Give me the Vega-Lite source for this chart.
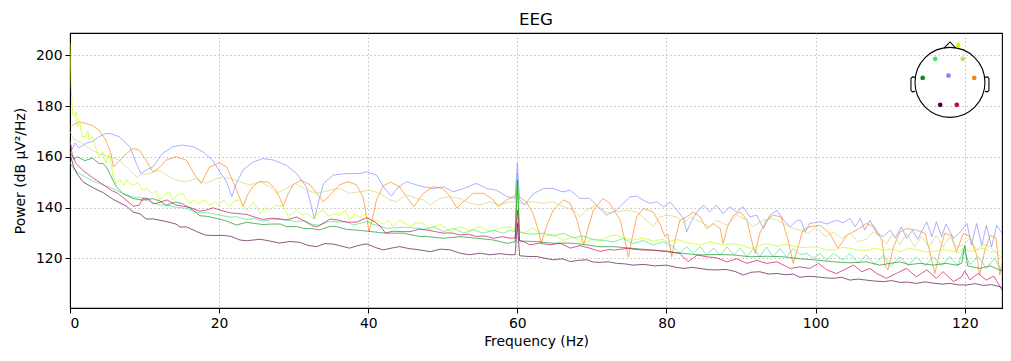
{
"$schema": "https://vega.github.io/schema/vega-lite/v6.json",
"width": 932, "height": 275,
"autosize": {"type": "none"},
"padding": {"left": 70, "top": 33, "right": 9, "bottom": 53},
"title": {"text": "EEG", "font": "DejaVu Sans", "fontSize": 16.7, "fontWeight": "normal", "color": "black", "offset": 8, "baseline": "alphabetic", "dy": 17},
"config": {
 "font": "DejaVu Sans",
 "view": {"stroke": "black", "strokeWidth": 1.1},
 "axis": {"labelFont": "DejaVu Sans", "labelFontSize": 13.9, "labelColor": "black", "titleFont": "DejaVu Sans", "titleFontSize": 13.9, "titleFontWeight": "normal", "titleColor": "black", "domainColor": "black", "tickColor": "black", "tickSize": 5, "labelPadding": 3, "gridColor": "#b0b0b0", "gridDash": [1.5, 2.5], "gridWidth": 0.8}
},
"datasets": {
"psd": [
{"c":"B","f":0,"p":166},{"c":"B","f":0.3,"p":163},{"c":"B","f":0.7,"p":165.5},{"c":"B","f":1.2,"p":163.5},{"c":"B","f":2.1,"p":165.3},{"c":"B","f":3,"p":166},{"c":"B","f":3.9,"p":167.9},{"c":"B","f":4.8,"p":169.2},{"c":"B","f":5.6,"p":169},{"c":"B","f":6.6,"p":167.9},{"c":"B","f":8,"p":164},{"c":"B","f":8.9,"p":157.4},{"c":"B","f":9.5,"p":153.4},{"c":"B","f":10.2,"p":154.7},{"c":"B","f":11.1,"p":156},{"c":"B","f":12.4,"p":161.3},{"c":"B","f":13.8,"p":164},{"c":"B","f":15.1,"p":164.6},{"c":"B","f":16.5,"p":164},{"c":"B","f":17.8,"p":162},{"c":"B","f":19.1,"p":158.7},{"c":"B","f":20.1,"p":154.1},{"c":"B","f":21,"p":150.2},{"c":"B","f":21.7,"p":144.3},{"c":"B","f":22.3,"p":149.5},{"c":"B","f":23.2,"p":154.8},{"c":"B","f":24.6,"p":158},{"c":"B","f":25.9,"p":159.3},{"c":"B","f":27.3,"p":158.7},{"c":"B","f":29,"p":156.7},{"c":"B","f":30.4,"p":153.4},{"c":"B","f":31.7,"p":148.2},{"c":"B","f":32.4,"p":140.3},{"c":"B","f":32.8,"p":135.5},{"c":"B","f":33.3,"p":141.7},{"c":"B","f":34,"p":149.5},{"c":"B","f":35.3,"p":152.8},{"c":"B","f":37.1,"p":153.4},{"c":"B","f":38.9,"p":153.4},{"c":"B","f":39.8,"p":154.1},{"c":"B","f":41.1,"p":152.8},{"c":"B","f":42.2,"p":147.5},{"c":"B","f":43.1,"p":144.5},{"c":"B","f":44,"p":148},{"c":"B","f":45.1,"p":150.2},{"c":"B","f":46.5,"p":148.9},{"c":"B","f":47.4,"p":148.2},{"c":"B","f":48.7,"p":147.5},{"c":"B","f":50.1,"p":148.2},{"c":"B","f":51.4,"p":146.2},{"c":"B","f":52.8,"p":147.5},{"c":"B","f":54.5,"p":149.5},{"c":"B","f":55.9,"p":147.5},{"c":"B","f":57.2,"p":146.8},{"c":"B","f":58.6,"p":144.3},{"c":"B","f":59.7,"p":143.6},{"c":"B","f":60,"p":157.5},{"c":"B","f":60.3,"p":143},{"c":"B","f":61,"p":141},{"c":"B","f":62.1,"p":145.4},{"c":"B","f":63.5,"p":147.5},{"c":"B","f":64.8,"p":147.5},{"c":"B","f":66,"p":146.2},{"c":"B","f":67.1,"p":146.8},{"c":"B","f":68.4,"p":143.6},{"c":"B","f":69.7,"p":143.6},{"c":"B","f":71.1,"p":139.5},{"c":"B","f":72,"p":137},{"c":"B","f":73.3,"p":139},{"c":"B","f":74.2,"p":141.6},{"c":"B","f":75.1,"p":144.2},{"c":"B","f":76,"p":144.5},{"c":"B","f":76.9,"p":142.9},{"c":"B","f":77.8,"p":141.6},{"c":"B","f":78.7,"p":142.3},{"c":"B","f":79.6,"p":140.3},{"c":"B","f":80.5,"p":142.2},{"c":"B","f":81.4,"p":139},{"c":"B","f":82.3,"p":135.7},{"c":"B","f":82.7,"p":130.4},{"c":"B","f":83.4,"p":135},{"c":"B","f":84.1,"p":138.3},{"c":"B","f":85,"p":140.9},{"c":"B","f":85.8,"p":138.3},{"c":"B","f":86.7,"p":140.9},{"c":"B","f":87.6,"p":137.6},{"c":"B","f":88.5,"p":140.3},{"c":"B","f":89.4,"p":138.3},{"c":"B","f":90.3,"p":140.3},{"c":"B","f":91.2,"p":136.3},{"c":"B","f":92.1,"p":137},{"c":"B","f":93,"p":131.7},{"c":"B","f":93.9,"p":137},{"c":"B","f":94.8,"p":139},{"c":"B","f":95.7,"p":135},{"c":"B","f":96.6,"p":132.4},{"c":"B","f":97.5,"p":135},{"c":"B","f":98,"p":135},{"c":"B","f":98.6,"p":130.4},{"c":"B","f":99.2,"p":133.7},{"c":"B","f":100.6,"p":134.4},{"c":"B","f":101.5,"p":133.5},{"c":"B","f":102.8,"p":135},{"c":"B","f":103.7,"p":134},{"c":"B","f":104.6,"p":135.7},{"c":"B","f":105.3,"p":132.4},{"c":"B","f":106,"p":135.7},{"c":"B","f":106.6,"p":131.1},{"c":"B","f":107.3,"p":135},{"c":"B","f":108.2,"p":129.8},{"c":"B","f":109.1,"p":128.5},{"c":"B","f":110,"p":131.1},{"c":"B","f":110.7,"p":128},{"c":"B","f":111.5,"p":132.4},{"c":"B","f":112.2,"p":127.8},{"c":"B","f":113,"p":131},{"c":"B","f":113.7,"p":127.5},{"c":"B","f":114.9,"p":134.4},{"c":"B","f":115.6,"p":128.5},{"c":"B","f":116.2,"p":134.4},{"c":"B","f":116.9,"p":128.5},{"c":"B","f":117.5,"p":133.5},{"c":"B","f":118.5,"p":127.8},{"c":"B","f":119.3,"p":130},{"c":"B","f":120.3,"p":133.7},{"c":"B","f":120.9,"p":125.2},{"c":"B","f":121.6,"p":133.7},{"c":"B","f":122.3,"p":125},{"c":"B","f":122.9,"p":133},{"c":"B","f":123.6,"p":124.5},{"c":"B","f":124.3,"p":133},{"c":"B","f":125,"p":129.8},
{"c":"O","f":0,"p":172},{"c":"O","f":0.4,"p":172.5},{"c":"O","f":1.2,"p":173.8},{"c":"O","f":2.1,"p":173.2},{"c":"O","f":3,"p":172.3},{"c":"O","f":3.9,"p":170.5},{"c":"O","f":4.8,"p":166.6},{"c":"O","f":5.5,"p":161.3},{"c":"O","f":5.8,"p":156},{"c":"O","f":6.2,"p":157},{"c":"O","f":7.1,"p":160},{"c":"O","f":8.4,"p":163.3},{"c":"O","f":9.3,"p":162.6},{"c":"O","f":10.2,"p":158.7},{"c":"O","f":11.1,"p":154.1},{"c":"O","f":11.9,"p":155.5},{"c":"O","f":12.9,"p":158.7},{"c":"O","f":14.2,"p":160},{"c":"O","f":15.6,"p":158.7},{"c":"O","f":16.9,"p":152.1},{"c":"O","f":17.6,"p":149.5},{"c":"O","f":18.7,"p":156},{"c":"O","f":20,"p":157.6},{"c":"O","f":21,"p":156},{"c":"O","f":21.9,"p":150},{"c":"O","f":22.8,"p":143.5},{"c":"O","f":23.2,"p":140.3},{"c":"O","f":23.8,"p":145},{"c":"O","f":24.6,"p":148.5},{"c":"O","f":25.5,"p":150.3},{"c":"O","f":26.6,"p":150},{"c":"O","f":27.6,"p":147},{"c":"O","f":28.1,"p":144},{"c":"O","f":28.6,"p":140.5},{"c":"O","f":29.2,"p":145},{"c":"O","f":29.9,"p":149},{"c":"O","f":31,"p":150.8},{"c":"O","f":32.2,"p":149},{"c":"O","f":33.1,"p":145.5},{"c":"O","f":34,"p":142.3},{"c":"O","f":34.9,"p":145},{"c":"O","f":36.2,"p":149},{"c":"O","f":37.3,"p":150.2},{"c":"O","f":38.4,"p":149},{"c":"O","f":39.3,"p":144.3},{"c":"O","f":39.8,"p":136},{"c":"O","f":40.1,"p":130.5},{"c":"O","f":40.6,"p":136},{"c":"O","f":41.1,"p":143},{"c":"O","f":42,"p":148.5},{"c":"O","f":43,"p":150},{"c":"O","f":44.2,"p":148.2},{"c":"O","f":45.1,"p":144.3},{"c":"O","f":46.1,"p":140.3},{"c":"O","f":47.4,"p":145.6},{"c":"O","f":48.7,"p":148.2},{"c":"O","f":50,"p":147.5},{"c":"O","f":51,"p":144.3},{"c":"O","f":51.9,"p":139.7},{"c":"O","f":52.8,"p":142.5},{"c":"O","f":54.1,"p":145.6},{"c":"O","f":55.5,"p":145.6},{"c":"O","f":56.8,"p":143},{"c":"O","f":57.4,"p":140.3},{"c":"O","f":58.6,"p":143},{"c":"O","f":59.9,"p":145},{"c":"O","f":61.2,"p":142.3},{"c":"O","f":62.1,"p":137.7},{"c":"O","f":62.8,"p":131.2},{"c":"O","f":63.2,"p":125.9},{"c":"O","f":63.9,"p":132.5},{"c":"O","f":64.8,"p":139},{"c":"O","f":66.2,"p":143},{"c":"O","f":67.1,"p":141.6},{"c":"O","f":68,"p":135.1},{"c":"O","f":68.6,"p":128.5},{"c":"O","f":68.9,"p":125.3},{"c":"O","f":69.4,"p":131},{"c":"O","f":70.2,"p":139},{"c":"O","f":71.5,"p":143.6},{"c":"O","f":72.4,"p":141.6},{"c":"O","f":73.8,"p":135},{"c":"O","f":74.5,"p":126},{"c":"O","f":74.9,"p":120.5},{"c":"O","f":75.4,"p":128},{"c":"O","f":76,"p":136.3},{"c":"O","f":76.9,"p":139.6},{"c":"O","f":78.2,"p":138.3},{"c":"O","f":79.1,"p":133.7},{"c":"O","f":79.8,"p":128.5},{"c":"O","f":80.2,"p":129.5},{"c":"O","f":80.7,"p":120.6},{"c":"O","f":81.2,"p":128},{"c":"O","f":81.8,"p":135},{"c":"O","f":82.7,"p":136.3},{"c":"O","f":83.6,"p":138.3},{"c":"O","f":84.5,"p":136.3},{"c":"O","f":85.4,"p":131.7},{"c":"O","f":86.3,"p":133.7},{"c":"O","f":87.2,"p":131.7},{"c":"O","f":87.6,"p":125.8},{"c":"O","f":88.2,"p":132.5},{"c":"O","f":89,"p":137},{"c":"O","f":89.9,"p":138.3},{"c":"O","f":90.8,"p":135},{"c":"O","f":91.4,"p":127.2},{"c":"O","f":91.9,"p":121.9},{"c":"O","f":92.5,"p":129.8},{"c":"O","f":93.4,"p":135},{"c":"O","f":94.3,"p":137},{"c":"O","f":95.4,"p":136.3},{"c":"O","f":96.3,"p":127.2},{"c":"O","f":97,"p":118},{"c":"O","f":97.6,"p":124},{"c":"O","f":98.3,"p":131.1},{"c":"O","f":99.2,"p":132.4},{"c":"O","f":100.6,"p":133},{"c":"O","f":101.9,"p":129.8},{"c":"O","f":103,"p":123.9},{"c":"O","f":104.2,"p":129.1},{"c":"O","f":105.5,"p":131.1},{"c":"O","f":106.8,"p":133.7},{"c":"O","f":107.9,"p":132.4},{"c":"O","f":108.9,"p":127.2},{"c":"O","f":109.3,"p":117.3},{"c":"O","f":109.7,"p":115.4},{"c":"O","f":110.4,"p":124},{"c":"O","f":111.3,"p":130.4},{"c":"O","f":112.2,"p":131.7},{"c":"O","f":113.5,"p":131.1},{"c":"O","f":114.7,"p":129.8},{"c":"O","f":115.3,"p":122.6},{"c":"O","f":116,"p":114},{"c":"O","f":116.6,"p":122},{"c":"O","f":117.3,"p":129.8},{"c":"O","f":118.2,"p":129},{"c":"O","f":118.9,"p":122.6},{"c":"O","f":119.8,"p":129.8},{"c":"O","f":120.7,"p":128.5},{"c":"O","f":121.6,"p":121.3},{"c":"O","f":122,"p":113.4},{"c":"O","f":122.7,"p":123.2},{"c":"O","f":123.4,"p":129.1},{"c":"O","f":124.2,"p":128},{"c":"O","f":124.7,"p":113.4},{"c":"O","f":125,"p":118},
{"c":"P","f":0,"p":170},{"c":"P","f":0.5,"p":167},{"c":"P","f":1.2,"p":166},{"c":"P","f":2,"p":164.5},{"c":"P","f":3,"p":162.5},{"c":"P","f":3.9,"p":161.3},{"c":"P","f":5.3,"p":160},{"c":"P","f":6.6,"p":158.7},{"c":"P","f":8,"p":154.7},{"c":"P","f":8.9,"p":152.1},{"c":"P","f":9.7,"p":153},{"c":"P","f":10.6,"p":153.4},{"c":"P","f":12,"p":154.7},{"c":"P","f":12.9,"p":152.8},{"c":"P","f":14.2,"p":150.8},{"c":"P","f":15.6,"p":150.1},{"c":"P","f":16.9,"p":151.4},{"c":"P","f":18.2,"p":149.5},{"c":"P","f":19.6,"p":151.4},{"c":"P","f":20.5,"p":152},{"c":"P","f":21.4,"p":151.5},{"c":"P","f":22.8,"p":150.2},{"c":"P","f":24.1,"p":148.9},{"c":"P","f":25.5,"p":150.2},{"c":"P","f":26.8,"p":148.2},{"c":"P","f":27.7,"p":145.6},{"c":"P","f":29,"p":147.5},{"c":"P","f":30.2,"p":149.5},{"c":"P","f":31.7,"p":146.9},{"c":"P","f":33.1,"p":145.6},{"c":"P","f":34,"p":146.2},{"c":"P","f":34.9,"p":146.9},{"c":"P","f":36.2,"p":147.5},{"c":"P","f":37.5,"p":145.6},{"c":"P","f":38.9,"p":146.2},{"c":"P","f":40.2,"p":146.9},{"c":"P","f":41.6,"p":145.6},{"c":"P","f":42.9,"p":143},{"c":"P","f":43.8,"p":142.3},{"c":"P","f":45.1,"p":145},{"c":"P","f":46.5,"p":143.6},{"c":"P","f":47.4,"p":143},{"c":"P","f":48.3,"p":141},{"c":"P","f":49.6,"p":143.6},{"c":"P","f":51,"p":144.3},{"c":"P","f":52.3,"p":143.5},{"c":"P","f":53.6,"p":141.7},{"c":"P","f":55,"p":141},{"c":"P","f":56.3,"p":142.3},{"c":"P","f":57.7,"p":141},{"c":"P","f":59,"p":142.3},{"c":"P","f":59.7,"p":142},{"c":"P","f":60,"p":149.5},{"c":"P","f":60.3,"p":141.5},{"c":"P","f":60.8,"p":141.7},{"c":"P","f":62.1,"p":142.3},{"c":"P","f":63.5,"p":141.7},{"c":"P","f":64.8,"p":142.3},{"c":"P","f":66.2,"p":140.3},{"c":"P","f":67.5,"p":139},{"c":"P","f":68.4,"p":136.4},{"c":"P","f":69.3,"p":139},{"c":"P","f":70.6,"p":141},{"c":"P","f":72,"p":138},{"c":"P","f":73.3,"p":138.3},{"c":"P","f":74.7,"p":139},{"c":"P","f":76,"p":138.3},{"c":"P","f":77.3,"p":135},{"c":"P","f":78.2,"p":132.4},{"c":"P","f":79.1,"p":136.3},{"c":"P","f":80,"p":137},{"c":"P","f":81.4,"p":136.3},{"c":"P","f":82.3,"p":133.7},{"c":"P","f":83.2,"p":136.3},{"c":"P","f":84.5,"p":134.4},{"c":"P","f":85.8,"p":132.4},{"c":"P","f":86.7,"p":135},{"c":"P","f":88.1,"p":133},{"c":"P","f":89.4,"p":137},{"c":"P","f":90.8,"p":135},{"c":"P","f":91.6,"p":132.4},{"c":"P","f":93,"p":135},{"c":"P","f":94.3,"p":135.7},{"c":"P","f":95.7,"p":133.7},{"c":"P","f":97,"p":131.7},{"c":"P","f":97.9,"p":131.1},{"c":"P","f":99,"p":129.8},{"c":"P","f":100.1,"p":132.4},{"c":"P","f":101.3,"p":128.5},{"c":"P","f":102.4,"p":130.4},{"c":"P","f":103.5,"p":127.8},{"c":"P","f":104.6,"p":129.8},{"c":"P","f":105.7,"p":126.5},{"c":"P","f":106.8,"p":127.5},{"c":"P","f":107.7,"p":130.4},{"c":"P","f":108.6,"p":128.5},{"c":"P","f":109.5,"p":125.8},{"c":"P","f":110.4,"p":129.5},{"c":"P","f":111.3,"p":125.2},{"c":"P","f":112.2,"p":129.8},{"c":"P","f":113.3,"p":124.5},{"c":"P","f":114.2,"p":128.5},{"c":"P","f":115.2,"p":124.5},{"c":"P","f":116.2,"p":129.1},{"c":"P","f":117.1,"p":124.5},{"c":"P","f":118,"p":128.5},{"c":"P","f":118.9,"p":124.5},{"c":"P","f":119.8,"p":125.2},{"c":"P","f":120.7,"p":128},{"c":"P","f":121.6,"p":123.2},{"c":"P","f":122.5,"p":125.5},{"c":"P","f":123.4,"p":124.5},{"c":"P","f":124.3,"p":121.9},{"c":"P","f":125,"p":120},
{"c":"Y","f":0,"p":205},{"c":"Y","f":0.15,"p":188},{"c":"Y","f":0.35,"p":177},{"c":"Y","f":0.6,"p":176},{"c":"Y","f":0.8,"p":177.8},{"c":"Y","f":1,"p":171.8},{"c":"Y","f":1.3,"p":174},{"c":"Y","f":1.6,"p":168},{"c":"Y","f":2.1,"p":167.9},{"c":"Y","f":2.4,"p":170},{"c":"Y","f":2.6,"p":166.6},{"c":"Y","f":3,"p":168},{"c":"Y","f":3.5,"p":163},{"c":"Y","f":3.9,"p":160},{"c":"Y","f":4.4,"p":162},{"c":"Y","f":4.8,"p":157.4},{"c":"Y","f":5.3,"p":161.3},{"c":"Y","f":5.8,"p":152},{"c":"Y","f":6.2,"p":149.5},{"c":"Y","f":6.7,"p":151},{"c":"Y","f":7.2,"p":148.5},{"c":"Y","f":7.6,"p":151},{"c":"Y","f":8,"p":149.5},{"c":"Y","f":8.6,"p":148.8},{"c":"Y","f":9.1,"p":150},{"c":"Y","f":9.7,"p":146.8},{"c":"Y","f":10.3,"p":147.5},{"c":"Y","f":11.1,"p":145.5},{"c":"Y","f":11.5,"p":146.5},{"c":"Y","f":12,"p":142.9},{"c":"Y","f":12.6,"p":145},{"c":"Y","f":13.3,"p":146.2},{"c":"Y","f":13.8,"p":143},{"c":"Y","f":14.4,"p":145},{"c":"Y","f":15.1,"p":145.5},{"c":"Y","f":16,"p":141.6},{"c":"Y","f":16.6,"p":143},{"c":"Y","f":17.3,"p":141.6},{"c":"Y","f":18,"p":143},{"c":"Y","f":18.7,"p":140.9},{"c":"Y","f":19.4,"p":142},{"c":"Y","f":20,"p":140.9},{"c":"Y","f":20.6,"p":143},{"c":"Y","f":21.3,"p":140.3},{"c":"Y","f":22,"p":142.5},{"c":"Y","f":22.8,"p":143},{"c":"Y","f":23.7,"p":139},{"c":"Y","f":24.6,"p":142.3},{"c":"Y","f":25.5,"p":137.5},{"c":"Y","f":26.2,"p":140},{"c":"Y","f":26.8,"p":139},{"c":"Y","f":27.6,"p":141},{"c":"Y","f":28.6,"p":140.4},{"c":"Y","f":29.3,"p":136.4},{"c":"Y","f":30.4,"p":139},{"c":"Y","f":31.1,"p":137},{"c":"Y","f":31.7,"p":137.7},{"c":"Y","f":32.6,"p":135.8},{"c":"Y","f":33.3,"p":138},{"c":"Y","f":34,"p":139},{"c":"Y","f":34.7,"p":136.5},{"c":"Y","f":35.3,"p":137.5},{"c":"Y","f":36.1,"p":137},{"c":"Y","f":36.9,"p":139},{"c":"Y","f":37.5,"p":135},{"c":"Y","f":38.2,"p":137.5},{"c":"Y","f":38.9,"p":136},{"c":"Y","f":39.6,"p":137.5},{"c":"Y","f":40.2,"p":133.8},{"c":"Y","f":41.1,"p":135},{"c":"Y","f":42,"p":133.5},{"c":"Y","f":42.7,"p":135},{"c":"Y","f":43.3,"p":132.5},{"c":"Y","f":44.2,"p":135},{"c":"Y","f":45.6,"p":132.5},{"c":"Y","f":46.5,"p":134},{"c":"Y","f":47.3,"p":133.8},{"c":"Y","f":48.3,"p":131.2},{"c":"Y","f":49.6,"p":133.5},{"c":"Y","f":51,"p":130.5},{"c":"Y","f":52.3,"p":132.5},{"c":"Y","f":53.6,"p":131},{"c":"Y","f":55,"p":132.5},{"c":"Y","f":56.3,"p":130.5},{"c":"Y","f":57.7,"p":131.8},{"c":"Y","f":59,"p":132.5},{"c":"Y","f":59.7,"p":131},{"c":"Y","f":60,"p":147},{"c":"Y","f":60.3,"p":130.5},{"c":"Y","f":60.8,"p":129.9},{"c":"Y","f":62.1,"p":132},{"c":"Y","f":63.5,"p":128.6},{"c":"Y","f":64.8,"p":129.5},{"c":"Y","f":66.2,"p":127},{"c":"Y","f":67.5,"p":128.5},{"c":"Y","f":68.8,"p":126},{"c":"Y","f":70,"p":127.5},{"c":"Y","f":71.1,"p":127},{"c":"Y","f":72.4,"p":128.8},{"c":"Y","f":73.3,"p":129.1},{"c":"Y","f":74.4,"p":128},{"c":"Y","f":75.5,"p":127.2},{"c":"Y","f":76.9,"p":128},{"c":"Y","f":78.2,"p":126.8},{"c":"Y","f":79.5,"p":127.5},{"c":"Y","f":80.2,"p":126.5},{"c":"Y","f":81.4,"p":127.5},{"c":"Y","f":82.5,"p":126.3},{"c":"Y","f":84.5,"p":125.2},{"c":"Y","f":85.8,"p":126.5},{"c":"Y","f":87.5,"p":125.3},{"c":"Y","f":89,"p":125.8},{"c":"Y","f":90.2,"p":125},{"c":"Y","f":91.2,"p":123.9},{"c":"Y","f":92.5,"p":125},{"c":"Y","f":93.4,"p":125.8},{"c":"Y","f":94.8,"p":124.8},{"c":"Y","f":95.8,"p":125.5},{"c":"Y","f":97.9,"p":124.3},{"c":"Y","f":99,"p":124.3},{"c":"Y","f":100.1,"p":124.5},{"c":"Y","f":101.2,"p":123.5},{"c":"Y","f":102.4,"p":123.2},{"c":"Y","f":103.5,"p":124.3},{"c":"Y","f":104.6,"p":124},{"c":"Y","f":105.7,"p":123.2},{"c":"Y","f":106.8,"p":123},{"c":"Y","f":108,"p":124},{"c":"Y","f":109.1,"p":123},{"c":"Y","f":110.2,"p":123.8},{"c":"Y","f":111.3,"p":122.6},{"c":"Y","f":112.4,"p":123.8},{"c":"Y","f":113.5,"p":123.5},{"c":"Y","f":114.7,"p":122.5},{"c":"Y","f":115.8,"p":122.6},{"c":"Y","f":117,"p":123.5},{"c":"Y","f":118.1,"p":123},{"c":"Y","f":119.2,"p":122.2},{"c":"Y","f":120,"p":124.5},{"c":"Y","f":120.5,"p":122.6},{"c":"Y","f":121.4,"p":123.2},{"c":"Y","f":122.6,"p":124},{"c":"Y","f":123.5,"p":122.5},{"c":"Y","f":124.7,"p":122.6},{"c":"Y","f":125,"p":121.5},
{"c":"G","f":0,"p":158},{"c":"G","f":0.5,"p":155},{"c":"G","f":1.2,"p":153.5},{"c":"G","f":2.1,"p":152},{"c":"G","f":3,"p":150.5},{"c":"G","f":3.9,"p":149.5},{"c":"G","f":5.3,"p":148},{"c":"G","f":6.2,"p":146.8},{"c":"G","f":7.1,"p":145.5},{"c":"G","f":8.4,"p":144.2},{"c":"G","f":9.4,"p":144},{"c":"G","f":10.2,"p":142.9},{"c":"G","f":11.2,"p":141.9},{"c":"G","f":12,"p":140.9},{"c":"G","f":13,"p":141},{"c":"G","f":13.8,"p":140.3},{"c":"G","f":14.8,"p":140},{"c":"G","f":15.6,"p":139.6},{"c":"G","f":16.5,"p":138.6},{"c":"G","f":17.4,"p":137.9},{"c":"G","f":18.3,"p":138},{"c":"G","f":19.1,"p":137.6},{"c":"G","f":20.1,"p":137},{"c":"G","f":21.5,"p":136.2},{"c":"G","f":22.3,"p":136.4},{"c":"G","f":23.7,"p":135.3},{"c":"G","f":24.6,"p":135.7},{"c":"G","f":25.9,"p":134.6},{"c":"G","f":27.3,"p":135.5},{"c":"G","f":28.2,"p":135.3},{"c":"G","f":29,"p":135.1},{"c":"G","f":30.4,"p":134.5},{"c":"G","f":31.5,"p":134.8},{"c":"G","f":32.6,"p":133.3},{"c":"G","f":33.5,"p":133.1},{"c":"G","f":34.9,"p":134.6},{"c":"G","f":36,"p":134.2},{"c":"G","f":37.1,"p":134.5},{"c":"G","f":38,"p":133.1},{"c":"G","f":39.8,"p":134.5},{"c":"G","f":40.5,"p":133.5},{"c":"G","f":41.6,"p":132.7},{"c":"G","f":42.5,"p":131.8},{"c":"G","f":44.7,"p":132.2},{"c":"G","f":46.9,"p":131.8},{"c":"G","f":47.4,"p":131.2},{"c":"G","f":48.7,"p":132.5},{"c":"G","f":50.1,"p":130.5},{"c":"G","f":51.4,"p":131.8},{"c":"G","f":52.8,"p":129.9},{"c":"G","f":54.1,"p":131.2},{"c":"G","f":55.4,"p":129.9},{"c":"G","f":56.8,"p":131},{"c":"G","f":58.1,"p":129.9},{"c":"G","f":59,"p":131},{"c":"G","f":59.7,"p":130.5},{"c":"G","f":60,"p":153.5},{"c":"G","f":60.3,"p":130.5},{"c":"G","f":60.8,"p":129.9},{"c":"G","f":62.1,"p":129.5},{"c":"G","f":63.5,"p":129.9},{"c":"G","f":64.8,"p":128.8},{"c":"G","f":66.2,"p":129.9},{"c":"G","f":67.5,"p":128},{"c":"G","f":68.8,"p":128.8},{"c":"G","f":70.2,"p":127.3},{"c":"G","f":71.1,"p":127.2},{"c":"G","f":72.9,"p":126.5},{"c":"G","f":74.2,"p":127.8},{"c":"G","f":75.5,"p":125.8},{"c":"G","f":76.9,"p":127},{"c":"G","f":78.2,"p":125.2},{"c":"G","f":79.6,"p":126.5},{"c":"G","f":80.9,"p":124.5},{"c":"G","f":81.8,"p":121.9},{"c":"G","f":82.7,"p":124.5},{"c":"G","f":83.6,"p":122},{"c":"G","f":84.5,"p":124.5},{"c":"G","f":85.4,"p":121.3},{"c":"G","f":86.3,"p":124},{"c":"G","f":87.2,"p":121.3},{"c":"G","f":88.1,"p":124.5},{"c":"G","f":89,"p":121.3},{"c":"G","f":89.9,"p":124},{"c":"G","f":90.8,"p":120.6},{"c":"G","f":91.7,"p":124},{"c":"G","f":92.5,"p":120.6},{"c":"G","f":93.4,"p":124.5},{"c":"G","f":94.3,"p":120.6},{"c":"G","f":95.2,"p":123.8},{"c":"G","f":96.1,"p":120.6},{"c":"G","f":97,"p":123.8},{"c":"G","f":97.9,"p":121.5},{"c":"G","f":98.8,"p":121.9},{"c":"G","f":99.7,"p":120},{"c":"G","f":100.6,"p":121.9},{"c":"G","f":101.5,"p":119.3},{"c":"G","f":102.4,"p":121.9},{"c":"G","f":103.7,"p":119.3},{"c":"G","f":104.6,"p":121.9},{"c":"G","f":105.7,"p":118},{"c":"G","f":106.8,"p":121.3},{"c":"G","f":107.9,"p":117.6},{"c":"G","f":109.1,"p":121.3},{"c":"G","f":110,"p":116.7},{"c":"G","f":111.3,"p":120.6},{"c":"G","f":112.4,"p":117},{"c":"G","f":113.5,"p":120.6},{"c":"G","f":114.7,"p":117},{"c":"G","f":115.8,"p":120.6},{"c":"G","f":116.9,"p":117},{"c":"G","f":118,"p":120.6},{"c":"G","f":119.1,"p":117},{"c":"G","f":119.8,"p":123.5},{"c":"G","f":120.7,"p":117.5},{"c":"G","f":121.8,"p":120.6},{"c":"G","f":122.9,"p":116},{"c":"G","f":124,"p":120},{"c":"G","f":125,"p":114.7},
{"c":"D","f":0,"p":162},{"c":"D","f":0.5,"p":159},{"c":"D","f":1,"p":160},{"c":"D","f":2,"p":158.5},{"c":"D","f":3,"p":159.5},{"c":"D","f":3.9,"p":157.4},{"c":"D","f":4.4,"p":157.4},{"c":"D","f":4.9,"p":155.9},{"c":"D","f":5.3,"p":153.5},{"c":"D","f":6.2,"p":148.2},{"c":"D","f":7.1,"p":145.5},{"c":"D","f":8.4,"p":143.6},{"c":"D","f":9.7,"p":142.9},{"c":"D","f":11.1,"p":143.5},{"c":"D","f":12.1,"p":142.5},{"c":"D","f":12.9,"p":140.9},{"c":"D","f":14.2,"p":142.2},{"c":"D","f":15.1,"p":141.5},{"c":"D","f":16.5,"p":139},{"c":"D","f":17.4,"p":136.8},{"c":"D","f":18.5,"p":136.5},{"c":"D","f":19.6,"p":135.7},{"c":"D","f":20.9,"p":134.8},{"c":"D","f":22.3,"p":133.1},{"c":"D","f":23.7,"p":134.2},{"c":"D","f":24.6,"p":133.8},{"c":"D","f":25.9,"p":133.3},{"c":"D","f":27,"p":133.5},{"c":"D","f":28.2,"p":133.5},{"c":"D","f":29,"p":132.5},{"c":"D","f":30.4,"p":132.5},{"c":"D","f":31.3,"p":131.8},{"c":"D","f":32.6,"p":131.6},{"c":"D","f":33.5,"p":131.2},{"c":"D","f":34.9,"p":132.6},{"c":"D","f":35.7,"p":132.5},{"c":"D","f":37.1,"p":131.4},{"c":"D","f":38,"p":131.2},{"c":"D","f":39.8,"p":130.7},{"c":"D","f":41.6,"p":130.1},{"c":"D","f":42.5,"p":129.9},{"c":"D","f":44.7,"p":129.9},{"c":"D","f":46.9,"p":128.6},{"c":"D","f":47.8,"p":128.6},{"c":"D","f":50.1,"p":127.9},{"c":"D","f":52.3,"p":128.5},{"c":"D","f":54.5,"p":127.9},{"c":"D","f":56.8,"p":127.2},{"c":"D","f":58.6,"p":125.9},{"c":"D","f":59.7,"p":126.5},{"c":"D","f":60,"p":150.8},{"c":"D","f":60.3,"p":126.8},{"c":"D","f":62.6,"p":126.6},{"c":"D","f":64.8,"p":125.9},{"c":"D","f":67.1,"p":126},{"c":"D","f":69.3,"p":125.3},{"c":"D","f":71.1,"p":124.5},{"c":"D","f":72.4,"p":124.6},{"c":"D","f":73.3,"p":124.5},{"c":"D","f":75.5,"p":123.9},{"c":"D","f":77.8,"p":123.3},{"c":"D","f":80,"p":122.6},{"c":"D","f":82.3,"p":121.9},{"c":"D","f":84.5,"p":121.3},{"c":"D","f":86.7,"p":121.5},{"c":"D","f":89,"p":121.3},{"c":"D","f":91.2,"p":120.6},{"c":"D","f":93.4,"p":120.8},{"c":"D","f":95.7,"p":120.6},{"c":"D","f":97.9,"p":119.8},{"c":"D","f":100.1,"p":119.3},{"c":"D","f":102.4,"p":118.6},{"c":"D","f":104.6,"p":118.2},{"c":"D","f":106.8,"p":118.6},{"c":"D","f":108.6,"p":117.3},{"c":"D","f":110,"p":118},{"c":"D","f":111.3,"p":118.6},{"c":"D","f":112.6,"p":117.5},{"c":"D","f":114,"p":118},{"c":"D","f":115.8,"p":117.3},{"c":"D","f":117.5,"p":118},{"c":"D","f":118.9,"p":117.3},{"c":"D","f":119.6,"p":118},{"c":"D","f":120,"p":125},{"c":"D","f":120.4,"p":117},{"c":"D","f":122,"p":116},{"c":"D","f":123.4,"p":117},{"c":"D","f":124.7,"p":115.4},{"c":"D","f":125,"p":115},
{"c":"R","f":0,"p":166},{"c":"R","f":0.3,"p":161},{"c":"R","f":0.8,"p":157.4},{"c":"R","f":1.7,"p":154.7},{"c":"R","f":3,"p":151.8},{"c":"R","f":3.9,"p":150.1},{"c":"R","f":4.8,"p":148.3},{"c":"R","f":5.7,"p":146.5},{"c":"R","f":6.3,"p":145.8},{"c":"R","f":7.5,"p":143},{"c":"R","f":8.5,"p":140.5},{"c":"R","f":9.3,"p":140.9},{"c":"R","f":9.8,"p":143.8},{"c":"R","f":10.5,"p":143.5},{"c":"R","f":11.2,"p":141.4},{"c":"R","f":12,"p":142},{"c":"R","f":13,"p":143},{"c":"R","f":14.2,"p":141},{"c":"R","f":15.2,"p":140.5},{"c":"R","f":16.1,"p":140},{"c":"R","f":17.4,"p":138.6},{"c":"R","f":18.2,"p":138.9},{"c":"R","f":19.2,"p":139.9},{"c":"R","f":20.1,"p":139},{"c":"R","f":21.5,"p":137.9},{"c":"R","f":22.3,"p":137.7},{"c":"R","f":23.7,"p":137.3},{"c":"R","f":24.6,"p":136.4},{"c":"R","f":25.9,"p":135.3},{"c":"R","f":27,"p":135.8},{"c":"R","f":28.2,"p":135.5},{"c":"R","f":29,"p":135.1},{"c":"R","f":30.4,"p":136.3},{"c":"R","f":31.5,"p":134.5},{"c":"R","f":32.6,"p":132.7},{"c":"R","f":33.2,"p":132.5},{"c":"R","f":34.9,"p":135.5},{"c":"R","f":36,"p":135},{"c":"R","f":37.1,"p":134.2},{"c":"R","f":38.5,"p":134.3},{"c":"R","f":39.8,"p":136},{"c":"R","f":40.8,"p":134.5},{"c":"R","f":41.6,"p":132.7},{"c":"R","f":42.3,"p":130},{"c":"R","f":43.4,"p":130.7},{"c":"R","f":44.5,"p":130.5},{"c":"R","f":45.6,"p":130.5},{"c":"R","f":46.9,"p":131.5},{"c":"R","f":47.8,"p":131.2},{"c":"R","f":49,"p":130.5},{"c":"R","f":50.1,"p":129.9},{"c":"R","f":51.2,"p":130},{"c":"R","f":52.3,"p":129.2},{"c":"R","f":53.4,"p":129.5},{"c":"R","f":54.5,"p":128.6},{"c":"R","f":55.6,"p":128.8},{"c":"R","f":56.8,"p":127.9},{"c":"R","f":58,"p":128.5},{"c":"R","f":59,"p":127.9},{"c":"R","f":59.7,"p":128},{"c":"R","f":60,"p":139},{"c":"R","f":60.3,"p":127},{"c":"R","f":60.8,"p":126.6},{"c":"R","f":61.7,"p":125.3},{"c":"R","f":63,"p":126},{"c":"R","f":64.4,"p":125.3},{"c":"R","f":65.7,"p":126},{"c":"R","f":67.1,"p":124},{"c":"R","f":68.4,"p":125},{"c":"R","f":69.7,"p":124},{"c":"R","f":71.1,"p":122.7},{"c":"R","f":72.4,"p":123.5},{"c":"R","f":72.9,"p":123.2},{"c":"R","f":74.7,"p":123.9},{"c":"R","f":76.4,"p":123.3},{"c":"R","f":78.2,"p":123.2},{"c":"R","f":80,"p":122.8},{"c":"R","f":81.8,"p":121.9},{"c":"R","f":82.9,"p":118.6},{"c":"R","f":84.1,"p":121.3},{"c":"R","f":85.4,"p":120.6},{"c":"R","f":86.7,"p":120.2},{"c":"R","f":88.1,"p":118.6},{"c":"R","f":89.4,"p":119.8},{"c":"R","f":90.8,"p":118},{"c":"R","f":92.1,"p":119.2},{"c":"R","f":93.4,"p":118},{"c":"R","f":94.8,"p":118.6},{"c":"R","f":96.6,"p":116},{"c":"R","f":97.9,"p":116.6},{"c":"R","f":99.2,"p":116},{"c":"R","f":100.4,"p":118},{"c":"R","f":101.5,"p":115.4},{"c":"R","f":102.8,"p":114},{"c":"R","f":104.2,"p":116},{"c":"R","f":105.1,"p":117.3},{"c":"R","f":106.2,"p":114.7},{"c":"R","f":107.3,"p":116},{"c":"R","f":108.2,"p":114},{"c":"R","f":109.5,"p":112.1},{"c":"R","f":110.8,"p":114},{"c":"R","f":112.2,"p":116},{"c":"R","f":113.5,"p":112.7},{"c":"R","f":114.9,"p":115.4},{"c":"R","f":116.2,"p":112.1},{"c":"R","f":117.1,"p":114.7},{"c":"R","f":118.5,"p":110.8},{"c":"R","f":119.6,"p":112.7},{"c":"R","f":120,"p":115},{"c":"R","f":120.7,"p":111.5},{"c":"R","f":121.8,"p":114},{"c":"R","f":122.9,"p":111.4},{"c":"R","f":123.9,"p":113},{"c":"R","f":125,"p":107.5},
{"c":"U","f":0,"p":161},{"c":"U","f":0.5,"p":156},{"c":"U","f":1,"p":153},{"c":"U","f":1.8,"p":150},{"c":"U","f":3.1,"p":147.8},{"c":"U","f":4.5,"p":145.8},{"c":"U","f":5.8,"p":143.2},{"c":"U","f":7.6,"p":140.5},{"c":"U","f":8.4,"p":138.3},{"c":"U","f":9.4,"p":137.5},{"c":"U","f":10.2,"p":135.5},{"c":"U","f":11.2,"p":135.5},{"c":"U","f":12.9,"p":134.5},{"c":"U","f":14.2,"p":133.5},{"c":"U","f":14.8,"p":132.3},{"c":"U","f":15.6,"p":132.4},{"c":"U","f":17,"p":130.5},{"c":"U","f":18.2,"p":129.1},{"c":"U","f":19.2,"p":129},{"c":"U","f":20.5,"p":129},{"c":"U","f":21.5,"p":128.7},{"c":"U","f":22.8,"p":127.2},{"c":"U","f":23.7,"p":126.9},{"c":"U","f":25.5,"p":127.5},{"c":"U","f":26.8,"p":126.8},{"c":"U","f":28.1,"p":126},{"c":"U","f":29.5,"p":126.6},{"c":"U","f":30.8,"p":126.3},{"c":"U","f":32,"p":125},{"c":"U","f":33.1,"p":124.6},{"c":"U","f":34.2,"p":125.8},{"c":"U","f":35.3,"p":125.6},{"c":"U","f":36.4,"p":124.8},{"c":"U","f":37.5,"p":124},{"c":"U","f":38.6,"p":125},{"c":"U","f":39.8,"p":125.7},{"c":"U","f":41,"p":124.2},{"c":"U","f":42,"p":123.3},{"c":"U","f":43.1,"p":124},{"c":"U","f":44.2,"p":124.6},{"c":"U","f":45.5,"p":123.8},{"c":"U","f":46.9,"p":123.3},{"c":"U","f":48.3,"p":122.6},{"c":"U","f":49.7,"p":123.6},{"c":"U","f":51,"p":123.3},{"c":"U","f":52.3,"p":122},{"c":"U","f":53.6,"p":121.4},{"c":"U","f":55,"p":122},{"c":"U","f":56.3,"p":121.4},{"c":"U","f":57.7,"p":121.8},{"c":"U","f":59,"p":121.4},{"c":"U","f":59.7,"p":121.4},{"c":"U","f":60,"p":133.8},{"c":"U","f":60.3,"p":121},{"c":"U","f":61.5,"p":120.7},{"c":"U","f":62.6,"p":120.7},{"c":"U","f":63.7,"p":120},{"c":"U","f":64.8,"p":119.4},{"c":"U","f":66,"p":119.8},{"c":"U","f":67.1,"p":118.7},{"c":"U","f":68.2,"p":119.2},{"c":"U","f":69.3,"p":119.4},{"c":"U","f":70.2,"p":118.5},{"c":"U","f":71.1,"p":118.4},{"c":"U","f":72.2,"p":118.6},{"c":"U","f":73.3,"p":118},{"c":"U","f":74.4,"p":117.8},{"c":"U","f":75.5,"p":117.3},{"c":"U","f":77,"p":117.6},{"c":"U","f":78.4,"p":117},{"c":"U","f":80,"p":117.3},{"c":"U","f":81.2,"p":116.5},{"c":"U","f":82.3,"p":116},{"c":"U","f":83.4,"p":116.4},{"c":"U","f":84.5,"p":116},{"c":"U","f":85.6,"p":115.5},{"c":"U","f":86.7,"p":115.4},{"c":"U","f":88,"p":115.6},{"c":"U","f":89.2,"p":114.8},{"c":"U","f":90.3,"p":113.4},{"c":"U","f":91.4,"p":114.5},{"c":"U","f":92.5,"p":114.7},{"c":"U","f":93.7,"p":113.8},{"c":"U","f":94.8,"p":114},{"c":"U","f":96,"p":113.5},{"c":"U","f":97,"p":113.8},{"c":"U","f":97.9,"p":112.5},{"c":"U","f":99,"p":112.9},{"c":"U","f":100.1,"p":112.7},{"c":"U","f":101.2,"p":112.3},{"c":"U","f":102.4,"p":112.1},{"c":"U","f":103.5,"p":112.5},{"c":"U","f":104.6,"p":111.4},{"c":"U","f":105.7,"p":111.8},{"c":"U","f":106.8,"p":111.4},{"c":"U","f":108,"p":111},{"c":"U","f":109.1,"p":110.8},{"c":"U","f":110.2,"p":111.2},{"c":"U","f":111.3,"p":110.5},{"c":"U","f":112.4,"p":110.6},{"c":"U","f":113.5,"p":110.1},{"c":"U","f":114.7,"p":110.7},{"c":"U","f":115.8,"p":110.2},{"c":"U","f":117,"p":109.8},{"c":"U","f":118,"p":110.1},{"c":"U","f":119.2,"p":109.5},{"c":"U","f":120.3,"p":109.5},{"c":"U","f":121.4,"p":110},{"c":"U","f":122.5,"p":109.3},{"c":"U","f":123.6,"p":109.6},{"c":"U","f":124.7,"p":108.8},{"c":"U","f":125,"p":108.2}
],
"sensors": [
{"c":"Y","f":119.14,"p":204.08},{"c":"G","f":116.04,"p":198.58},{"c":"P","f":119.73,"p":198.58},{"c":"D","f":114.36,"p":191.11},{"c":"B","f":117.82,"p":192.02},{"c":"O","f":121.28,"p":191.11},{"c":"U","f":116.71,"p":180.5},{"c":"R","f":118.94,"p":180.5}
],
"outline": [
{"part":"nose","i":0,"f":117.26,"p":202.9},{"part":"nose","i":1,"f":118.02,"p":205.26},{"part":"nose","i":2,"f":118.78,"p":202.9},
{"part":"earL","i":0,"f":113.33,"p":191.31},{"part":"earL","i":1,"f":113.0,"p":191.5},{"part":"earL","i":2,"f":112.79,"p":190.91},{"part":"earL","i":3,"f":112.79,"p":186.2},{"part":"earL","i":4,"f":113.0,"p":185.61},{"part":"earL","i":5,"f":113.33,"p":185.8},
{"part":"earR","i":0,"f":122.71,"p":191.31},{"part":"earR","i":1,"f":123.05,"p":191.5},{"part":"earR","i":2,"f":123.25,"p":190.91},{"part":"earR","i":3,"f":123.25,"p":186.2},{"part":"earR","i":4,"f":123.05,"p":185.61},{"part":"earR","i":5,"f":122.71,"p":185.8}
],
"headc": [{"f":118.02,"p":189.34}]
},
"layer": [
{"data": {"name": "psd"},
 "mark": {"type": "line", "strokeWidth": 1, "opacity": 0.65, "clip": true},
 "encoding": {
  "x": {"field": "f", "type": "quantitative", "scale": {"domain": [0, 125], "nice": false, "zero": false}, "axis": {"title": "Frequency (Hz)", "values": [0, 20, 40, 60, 80, 100, 120], "grid": true, "titlePadding": 5}},
  "y": {"field": "p", "type": "quantitative", "scale": {"domain": [100.4, 208.8], "nice": false, "zero": false}, "axis": {"title": "Power (dB µV²/Hz)", "values": [120, 140, 160, 180, 200], "grid": true, "titlePadding": 8}},
  "color": {"field": "c", "type": "nominal", "scale": {"domain": ["B","O","P","Y","G","D","R","U"], "range": ["#7f85ff","#ff7f10","#cdd66a","#bfff00","#3de27f","#0a8a1e","#c8004f","#4f0040"]}, "legend": null},
  "detail": {"field": "c"}
 }},
{"data": {"name": "headc"},
 "mark": {"type": "point", "shape": "circle", "filled": false, "size": 4900, "stroke": "black", "strokeWidth": 1.1, "opacity": 1},
 "encoding": {"x": {"field": "f", "type": "quantitative"}, "y": {"field": "p", "type": "quantitative"}}},
{"data": {"name": "outline"},
 "mark": {"type": "line", "color": "black", "strokeWidth": 1.1},
 "encoding": {"x": {"field": "f", "type": "quantitative"}, "y": {"field": "p", "type": "quantitative"}, "detail": {"field": "part"}, "order": {"field": "i", "type": "quantitative"}}},
{"data": {"name": "sensors"},
 "mark": {"type": "point", "shape": "circle", "filled": true, "size": 22, "opacity": 1},
 "encoding": {"x": {"field": "f", "type": "quantitative"}, "y": {"field": "p", "type": "quantitative"}, "color": {"field": "c", "type": "nominal", "legend": null}}}
]
}
